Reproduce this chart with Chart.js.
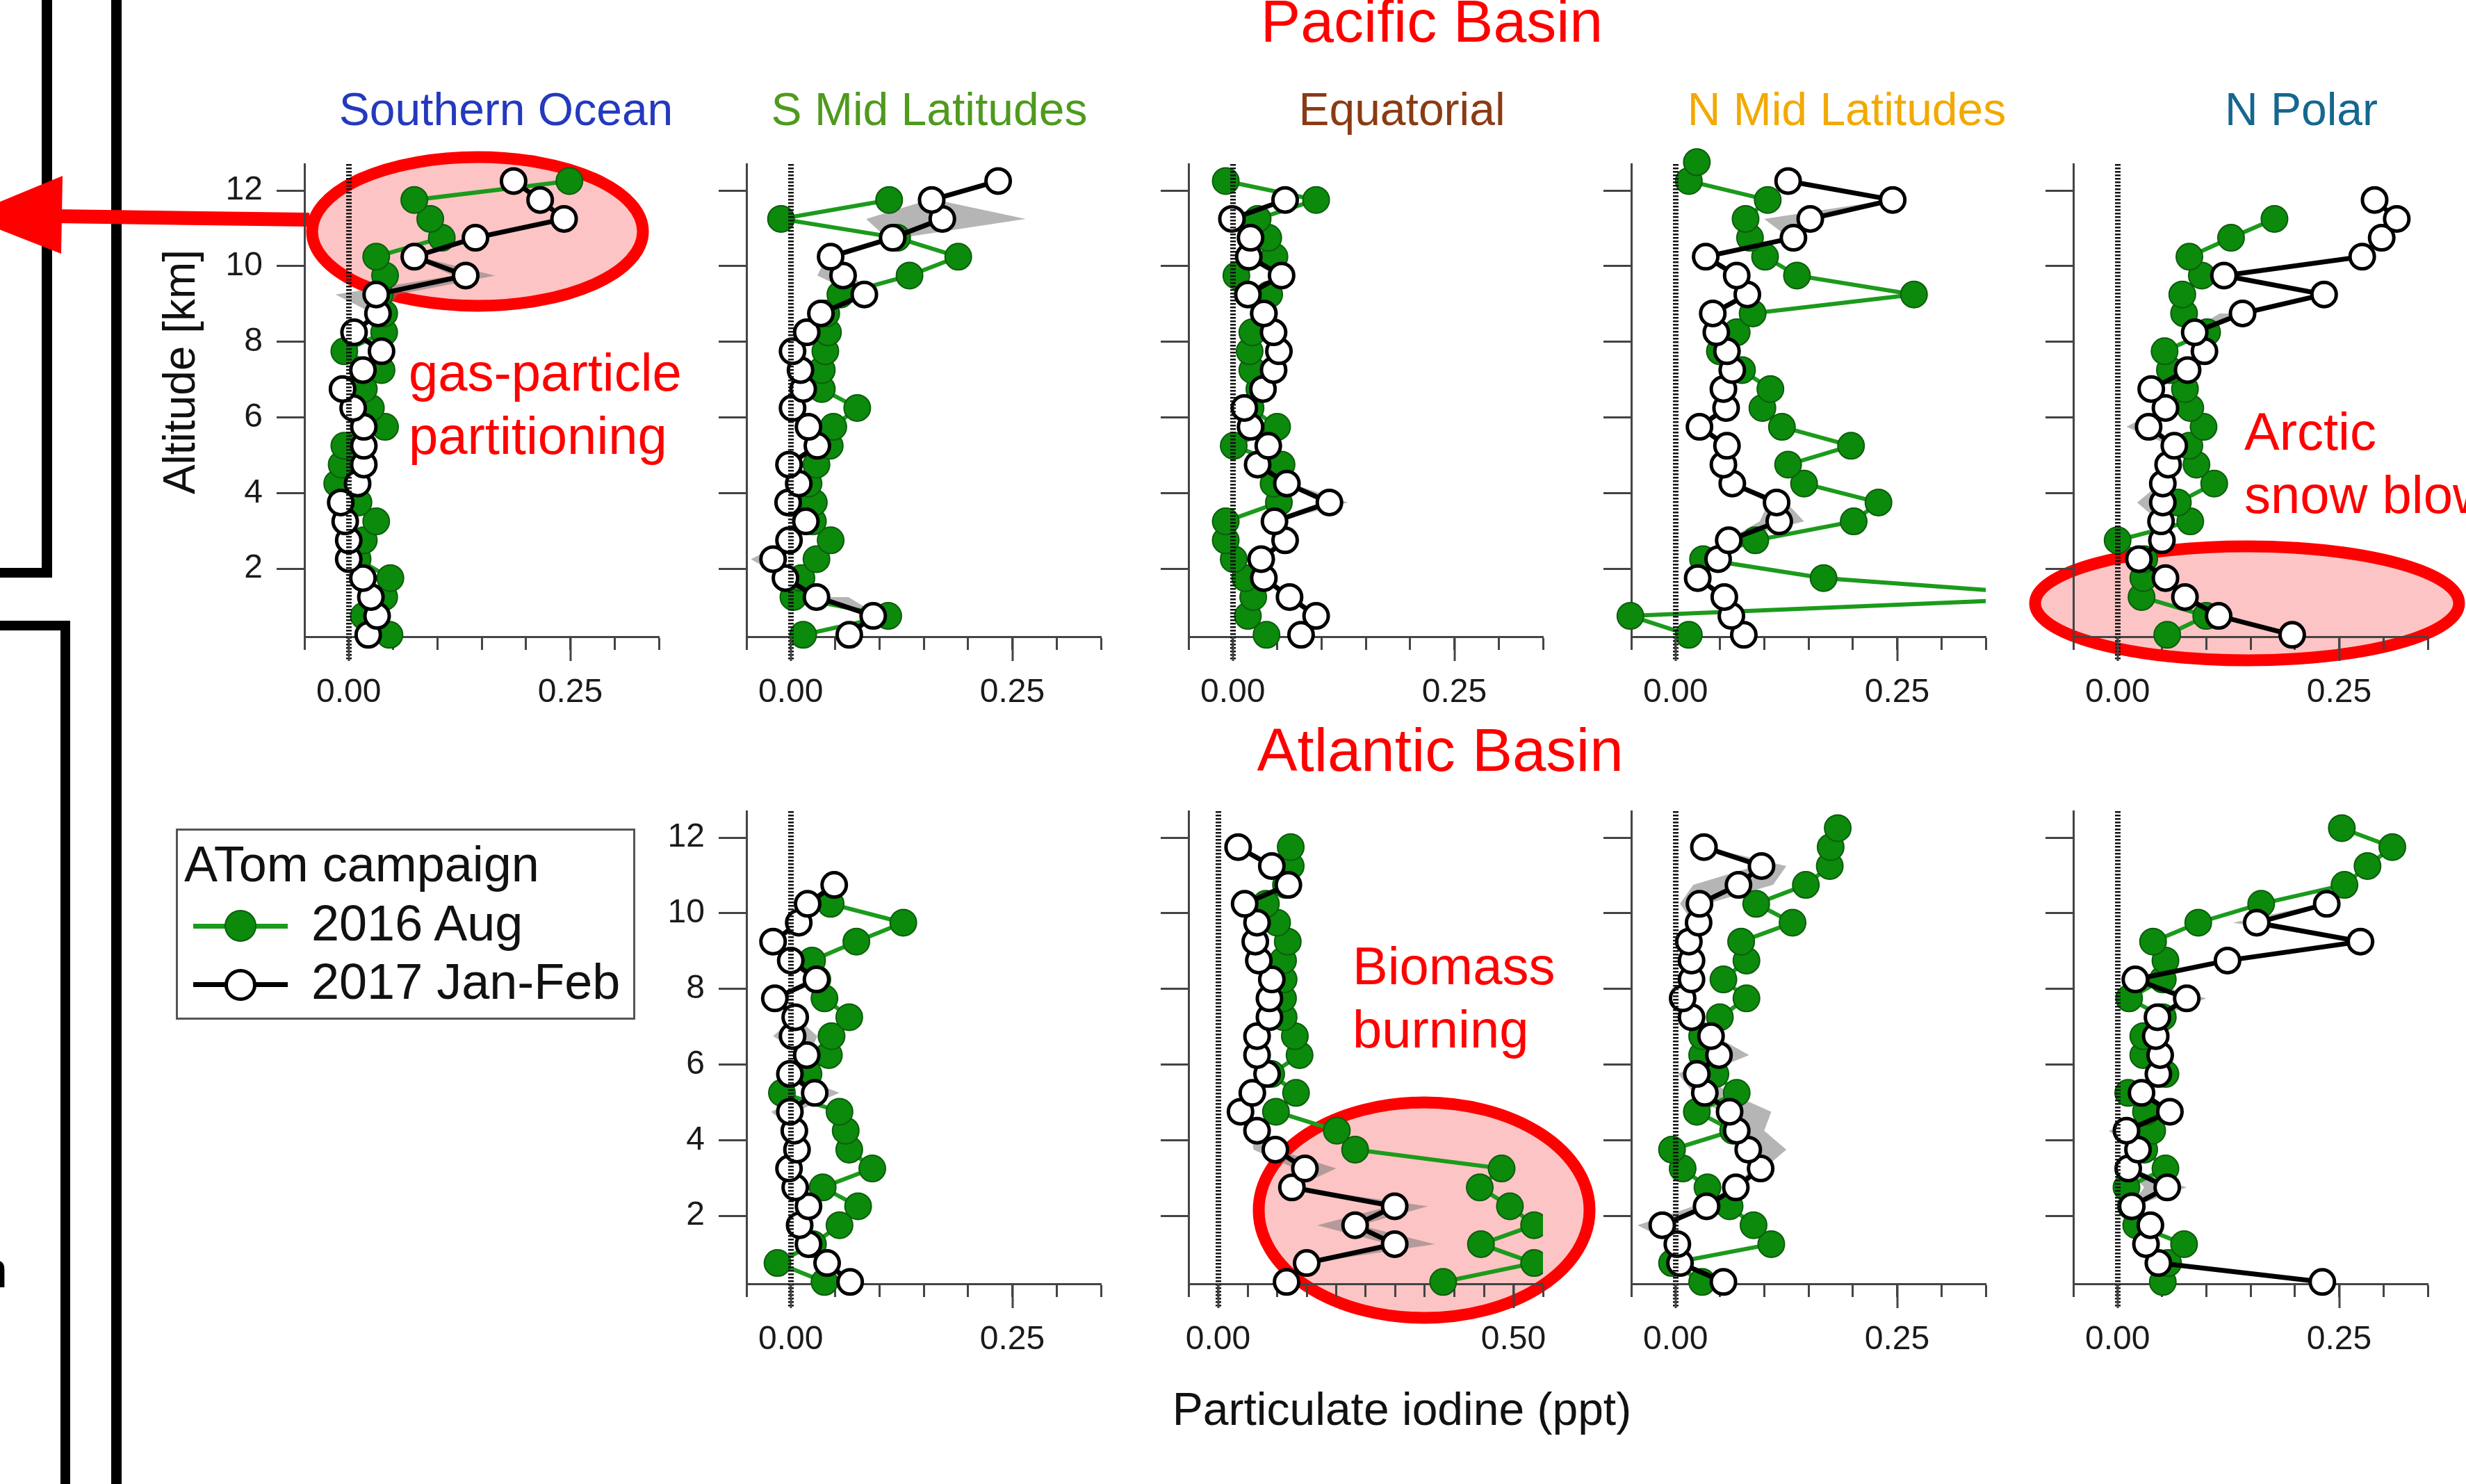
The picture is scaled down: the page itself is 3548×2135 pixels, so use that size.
<!DOCTYPE html>
<html>
<head>
<meta charset="UTF-8">
<title>ATom particulate iodine profiles</title>
<script src="https://cdn.jsdelivr.net/npm/chart.js@4.4.1/dist/chart.umd.min.js"></script>
<style>
  html, body { margin: 0; padding: 0; background: #fff; }
  body { width: 3548px; height: 2135px; position: relative; overflow: hidden;
         font-family: "Liberation Sans", Arial, sans-serif; }
  .txt { position: absolute; white-space: nowrap; line-height: 1; }
  .ctr { transform: translateX(-50%); }
  .note { position: absolute; white-space: nowrap; color: #f00; font-size: 76px; line-height: 91px; }
  canvas { position: absolute; }
  #shapes { position: absolute; left: 0; top: 0; }
  #legendBox { position: absolute; left: 253px; top: 1192px; width: 655px; height: 269px;
               border: 3px solid #555; background: #fff; }
  .sym { position: absolute; }
</style>
</head>
<body>

<!-- cropped neighbour panels, highlight ellipses and arrow -->
<svg id="shapes" width="3548" height="2135">
  <rect x="60" y="0" width="15" height="831" fill="#000"/>
  <rect x="0" y="817" width="75" height="14" fill="#000"/>
  <rect x="0" y="893" width="101" height="14" fill="#000"/>
  <rect x="87" y="893" width="14" height="1242" fill="#000"/>
  <rect x="160" y="0" width="15" height="2135" fill="#000"/>
  <ellipse cx="687" cy="333" rx="238" ry="107" fill="#fcc4c4" stroke="#ff0000" stroke-width="17"/>
  <ellipse cx="3233" cy="868" rx="305" ry="82" fill="#fcc4c4" stroke="#ff0000" stroke-width="17"/>
  <ellipse cx="2049" cy="1741" rx="238" ry="155" fill="#fcc4c4" stroke="#ff0000" stroke-width="17"/>
  <line x1="80" y1="311" x2="445" y2="316" stroke="#ff0000" stroke-width="20"/>
  <polygon points="-50,311 90,253 88,365" fill="#ff0000"/>
</svg>

<div class="txt" style="left:-29px; top:1791px; font-size:72px; color:#000;">n</div>

<div class="txt ctr" style="left:2060px; top:-13px; font-size:86px; color:#f00;">Pacific Basin</div>
<div class="txt ctr" style="left:2072px; top:1035px; font-size:87px; color:#f00;">Atlantic Basin</div>

<div class="txt ctr" style="left:728px; top:124px; font-size:66px; color:#2339be;">Southern Ocean</div>
<div class="txt ctr" style="left:1337px; top:124px; font-size:66px; color:#4f9a1e;">S Mid Latitudes</div>
<div class="txt ctr" style="left:2017px; top:124px; font-size:66px; color:#8a3b14;">Equatorial</div>
<div class="txt ctr" style="left:2657px; top:124px; font-size:66px; color:#f2a900;">N Mid Latitudes</div>
<div class="txt ctr" style="left:3311px; top:124px; font-size:66px; color:#15678f;">N Polar</div>

<div class="txt" style="left:258px; top:535px; font-size:64px; color:#111;
     transform: translate(-50%, -50%) rotate(-90deg);">Altitude [km]</div>
<div class="txt ctr" style="left:2017px; top:1994px; font-size:66px; color:#111;">Particulate iodine (ppt)</div>

<div class="note" style="left:588px; top:490px;">gas-particle<br>partitioning</div>
<div class="note" style="left:1946px; top:1344px;">Biomass<br>burning</div>
<div class="note" style="left:3229px; top:575px;">Arctic<br>snow blowing</div>

<div id="legendBox"></div>
<div class="txt" style="left:265px; top:1207px; font-size:72px; color:#111;">ATom campaign</div>
<div class="sym" style="left:278px; top:1329px; width:136px; height:7px; background:#1c9a1c;"></div>
<div class="sym" style="left:323px; top:1309px; width:46px; height:46px; box-sizing:border-box;
     border-radius:50%; background:#0b8a0b; border:2px solid #0d5c0d;"></div>
<div class="txt" style="left:448px; top:1292px; font-size:72px; color:#111;">2016 Aug</div>
<div class="sym" style="left:278px; top:1413px; width:136px; height:7px; background:#000;"></div>
<div class="sym" style="left:323px; top:1394px; width:46px; height:46px; box-sizing:border-box;
     border-radius:50%; background:#fff; border:5px solid #000;"></div>
<div class="txt" style="left:448px; top:1376px; font-size:72px; color:#111;">2017 Jan-Feb</div>

<script>
// altitude bins (km), shared by every profile
const ALTITUDE_KM = [0.25, 0.75, 1.25, 1.75, 2.25, 2.75, 3.25, 3.75, 4.25, 4.75, 5.25, 5.75, 6.25,
                     6.75, 7.25, 7.75, 8.25, 8.75, 9.25, 9.75, 10.25, 10.75, 11.25, 11.75, 12.25, 12.75];
const Y_TICKS = [2, 4, 6, 8, 10, 12];
const X_TICKS_SHORT = [-0.05, 0, 0.05, 0.1, 0.15, 0.2, 0.25, 0.3, 0.35];
const X_TICKS_LONG = [-0.05, 0, 0.05, 0.1, 0.15, 0.2, 0.25, 0.3, 0.35, 0.4, 0.45, 0.5, 0.55];
const X_LABELS_SHORT = [0, 0.25];
const X_LABELS_LONG = [0, 0.5];

// particulate iodine (ppt), bottom bin first
const pacSO2017 = [0.022, 0.032, 0.025, 0.016, 0.000, 0.000, -0.004, -0.009, 0.010, 0.017, 0.017, 0.017, 0.005, -0.007, 0.016, 0.037, 0.006, 0.033, 0.031, 0.132, 0.074, 0.143, 0.243, 0.216, 0.186, null];
const pacSO2016 = [0.046, 0.017, 0.040, 0.047, 0.010, 0.017, 0.031, 0.011, -0.013, -0.008, -0.005, 0.041, 0.025, 0.017, 0.037, -0.005, 0.040, 0.040, 0.035, 0.041, 0.031, 0.105, 0.092, 0.074, 0.249, null];

const pacSML2017 = [0.066, 0.093, 0.029, -0.006, -0.020, -0.002, 0.017, -0.003, 0.009, -0.002, 0.030, 0.020, 0.002, 0.014, 0.011, 0.002, 0.018, 0.034, 0.083, 0.059, 0.045, 0.115, 0.171, 0.159, 0.234, null];
const pacSML2016 = [0.014, 0.110, 0.003, 0.012, 0.029, 0.045, 0.025, 0.026, 0.020, 0.029, 0.044, 0.048, 0.075, 0.035, 0.035, 0.039, 0.042, 0.040, 0.056, 0.134, 0.189, 0.120, -0.011, 0.111, null, null];

const pacEQ2017 = [0.077, 0.094, 0.064, 0.035, 0.032, 0.059, 0.047, 0.109, 0.061, 0.028, 0.040, 0.020, 0.013, 0.034, 0.046, 0.052, 0.046, 0.035, 0.017, 0.055, 0.018, 0.020, -0.001, 0.059, null, null];
const pacEQ2016 = [0.038, 0.017, 0.023, 0.014, 0.001, -0.008, -0.008, 0.052, 0.046, 0.055, 0.001, 0.050, 0.020, 0.030, 0.022, 0.019, 0.022, 0.035, 0.041, 0.004, 0.047, 0.040, 0.028, 0.094, -0.008, null];

const pacNML2017 = [0.077, 0.063, 0.055, 0.025, 0.048, 0.060, 0.117, 0.114, 0.064, 0.054, 0.058, 0.027, 0.057, 0.054, 0.064, 0.058, 0.046, 0.042, 0.081, 0.069, 0.034, 0.133, 0.152, 0.245, 0.127, null];
const pacNML2016 = [0.015, -0.051, 0.46, 0.167, 0.031, 0.090, 0.201, 0.229, 0.145, 0.127, 0.198, 0.120, 0.098, 0.107, 0.075, 0.050, 0.069, 0.087, 0.269, 0.137, 0.101, 0.084, 0.079, 0.104, 0.015, 0.024];

const pacNP2017 = [0.197, 0.114, 0.076, 0.054, 0.024, 0.050, 0.049, 0.051, 0.051, 0.057, 0.064, 0.035, 0.054, 0.038, 0.079, 0.098, 0.087, 0.141, 0.233, 0.120, 0.276, 0.298, 0.315, 0.290, null, null];
const pacNP2016 = [0.056, 0.100, 0.027, 0.029, 0.030, 0.000, 0.082, 0.068, 0.109, 0.089, 0.081, 0.097, 0.082, 0.076, 0.059, 0.053, 0.101, 0.075, 0.073, 0.095, 0.081, 0.128, 0.177, null, null, null];

const atlSML2017 = [0.067, 0.041, 0.020, 0.010, 0.020, 0.005, -0.002, 0.007, 0.004, -0.001, 0.027, -0.001, 0.018, 0.002, 0.005, -0.018, 0.029, 0.000, -0.020, 0.009, 0.019, 0.049, null, null, null, null];
const atlSML2016 = [0.038, -0.015, 0.025, 0.055, 0.076, 0.036, 0.092, 0.066, 0.062, 0.055, -0.010, 0.020, 0.043, 0.046, 0.066, 0.038, 0.030, 0.024, 0.074, 0.127, 0.045, null, null, null, null, null];

const atlEQ2017 = [0.116, 0.150, 0.299, 0.232, 0.299, 0.125, 0.147, 0.097, 0.066, 0.038, 0.058, 0.083, 0.066, 0.066, 0.087, 0.087, 0.091, 0.069, 0.063, 0.066, 0.045, 0.119, 0.091, 0.034, null, null];
const atlEQ2016 = [0.381, 0.535, 0.445, 0.535, 0.494, 0.443, 0.480, 0.232, 0.201, 0.098, 0.132, 0.090, 0.138, 0.130, 0.111, 0.110, 0.111, 0.110, 0.118, 0.100, 0.081, 0.115, 0.123, 0.123, null, null];

const atlNML2017 = [0.054, 0.005, 0.002, -0.015, 0.035, 0.068, 0.096, 0.082, 0.069, 0.061, 0.033, 0.024, 0.049, 0.040, 0.018, 0.008, 0.018, 0.018, 0.015, 0.026, 0.027, 0.071, 0.097, 0.032, null, null];
const atlNML2016 = [0.030, -0.004, 0.108, 0.088, 0.061, 0.036, 0.008, -0.004, 0.065, 0.024, 0.069, 0.045, 0.030, 0.030, 0.050, 0.080, 0.054, 0.080, 0.074, 0.132, 0.091, 0.147, 0.174, 0.175, 0.183, null];

const atlNP2017 = [0.231, 0.046, 0.032, 0.037, 0.016, 0.056, 0.012, 0.023, 0.010, 0.059, 0.027, 0.046, 0.048, 0.043, 0.045, 0.078, 0.020, 0.124, 0.274, 0.157, 0.236, null, null, null, null, null];
const atlNP2016 = [0.051, 0.057, 0.075, 0.021, 0.015, 0.010, 0.054, 0.030, 0.039, 0.032, 0.012, 0.054, 0.029, 0.029, 0.051, 0.013, 0.051, 0.054, 0.040, 0.091, 0.162, 0.256, 0.282, 0.310, 0.253, null];

// 2017 spread: [altitude, low, high] runs
const pacSOBand = [[[10.25, 0.07, 0.078], [9.75, 0.118, 0.165], [9.25, -0.015, 0.055], [8.75, 0.028, 0.04]]];
const pacSMLBand = [
  [[11.75, 0.155, 0.165], [11.25, 0.085, 0.265], [10.75, 0.108, 0.125]],
  [[10.25, 0.04, 0.05], [9.75, 0.03, 0.07], [9.25, 0.075, 0.09]],
  [[2.75, -0.004, 0.0], [2.25, -0.045, -0.01], [1.75, -0.008, -0.004]],
  [[1.25, 0.025, 0.065], [0.75, 0.085, 0.1]]];
const pacEQBand = [[[4.25, 0.058, 0.066], [3.75, 0.1, 0.13], [3.25, 0.045, 0.05]]];
const pacNMLBand = [
  [[11.75, 0.24, 0.25], [11.25, 0.1, 0.16], [10.75, 0.128, 0.138]],
  [[4.25, 0.062, 0.068], [3.75, 0.105, 0.125], [3.25, 0.095, 0.145], [2.75, 0.058, 0.062]]];
const pacNPBand = [
  [[8.75, 0.115, 0.145], [8.25, 0.08, 0.095]],
  [[6.25, 0.05, 0.056], [5.75, 0.01, 0.04], [5.25, 0.06, 0.066]],
  [[4.25, 0.048, 0.052], [3.75, 0.022, 0.052], [3.25, 0.047, 0.05]]];
const atlSMLBand = [
  [[7.25, 0.004, 0.006], [6.75, -0.02, 0.03], [6.25, 0.016, 0.02]],
  [[5.75, -0.002, 0.0], [5.25, 0.02, 0.055], [4.75, -0.022, 0.005], [4.25, 0.003, 0.005]]];
const atlEQBand = [[[4.25, 0.055, 0.07], [3.75, 0.06, 0.1], [3.25, 0.13, 0.2], [2.75, 0.12, 0.13],
  [2.25, 0.29, 0.355], [1.75, 0.168, 0.24], [1.25, 0.29, 0.367], [0.75, 0.145, 0.155]]];
const atlNMLBand = [
  [[11.75, 0.03, 0.034], [11.25, 0.09, 0.125], [10.75, 0.02, 0.11], [10.25, 0.005, 0.035], [9.75, 0.02, 0.03]],
  [[7.25, 0.016, 0.02], [6.75, 0.035, 0.045], [6.25, 0.045, 0.083], [5.75, 0.003, 0.03], [5.25, 0.02, 0.06],
   [4.75, 0.05, 0.108], [4.25, 0.06, 0.1], [3.75, 0.078, 0.125], [3.25, 0.09, 0.1], [2.75, 0.06, 0.07]],
  [[2.25, 0.02, 0.04], [1.75, -0.043, -0.01], [1.25, 0.0, 0.004]]];
const atlNPBand = [
  [[10.25, 0.23, 0.24], [9.75, 0.13, 0.16], [9.25, 0.27, 0.28]],
  [[8.25, 0.018, 0.022], [7.75, 0.075, 0.1], [7.25, 0.043, 0.047]],
  [[4.75, 0.057, 0.06], [4.25, -0.01, 0.012], [3.75, 0.02, 0.025]],
  [[3.25, 0.01, 0.014], [2.75, 0.03, 0.078], [2.25, 0.014, 0.018]]];

// panel frame sizes (px)
const Y_AXIS_W = 150, X_AXIS_H = 130, PAD_TOP = 30, PAD_RIGHT = 40;
const PLOT_W = 510, PLOT_H = 680;

const panels = [
  { left: 438,  top: 236,  v17: pacSO2017,  v16: pacSO2016,  band: pacSOBand,  xTicks: X_TICKS_SHORT, xLabels: X_LABELS_SHORT, yLabels: true },
  { left: 1074, top: 236,  v17: pacSML2017, v16: pacSML2016, band: pacSMLBand, xTicks: X_TICKS_SHORT, xLabels: X_LABELS_SHORT, yLabels: false },
  { left: 1710, top: 236,  v17: pacEQ2017,  v16: pacEQ2016,  band: pacEQBand,  xTicks: X_TICKS_SHORT, xLabels: X_LABELS_SHORT, yLabels: false },
  { left: 2347, top: 236,  v17: pacNML2017, v16: pacNML2016, band: pacNMLBand, xTicks: X_TICKS_SHORT, xLabels: X_LABELS_SHORT, yLabels: false },
  { left: 2983, top: 236,  v17: pacNP2017,  v16: pacNP2016,  band: pacNPBand,  xTicks: X_TICKS_SHORT, xLabels: X_LABELS_SHORT, yLabels: false },
  { left: 1074, top: 1167, v17: atlSML2017, v16: atlSML2016, band: atlSMLBand, xTicks: X_TICKS_SHORT, xLabels: X_LABELS_SHORT, yLabels: true },
  { left: 1710, top: 1167, v17: atlEQ2017,  v16: atlEQ2016,  band: atlEQBand,  xTicks: X_TICKS_LONG,  xLabels: X_LABELS_LONG,  yLabels: false },
  { left: 2347, top: 1167, v17: atlNML2017, v16: atlNML2016, band: atlNMLBand, xTicks: X_TICKS_SHORT, xLabels: X_LABELS_SHORT, yLabels: false },
  { left: 2983, top: 1167, v17: atlNP2017,  v16: atlNP2016,  band: atlNPBand,  xTicks: X_TICKS_SHORT, xLabels: X_LABELS_SHORT, yLabels: false }
];

Chart.defaults.font.family = '"Liberation Sans", Arial, sans-serif';
Chart.defaults.font.size = 48;
Chart.defaults.color = '#1a1a1a';

function profile(values) {
  return ALTITUDE_KM.map((alt, i) => ({ x: values[i], y: alt })).filter(p => p.x !== null);
}

// grey spread under the data, dotted zero line over it, long major ticks
function decor(p) {
  return {
    id: 'profileDecor',
    beforeDatasetsDraw(chart) {
      const { ctx, scales: { x, y } } = chart;
      ctx.save();
      ctx.fillStyle = 'rgba(120,120,120,0.55)';
      p.band.forEach(run => {
        ctx.beginPath();
        run.forEach((r, i) => {
          const px = x.getPixelForValue(r[1]), py = y.getPixelForValue(r[0]);
          if (i) ctx.lineTo(px, py); else ctx.moveTo(px, py);
        });
        for (let i = run.length - 1; i >= 0; i--) {
          ctx.lineTo(x.getPixelForValue(run[i][2]), y.getPixelForValue(run[i][0]));
        }
        ctx.closePath();
        ctx.fill();
      });
      ctx.restore();
    },
    afterDatasetsDraw(chart) {
      const { ctx, chartArea, scales: { x } } = chart;
      const px = Math.round(x.getPixelForValue(0));
      ctx.save();
      ctx.strokeStyle = '#111';
      ctx.lineWidth = 8;
      ctx.setLineDash([2.5, 2.5]);
      ctx.beginPath();
      ctx.moveTo(px, chartArea.top);
      ctx.lineTo(px, chartArea.bottom + 35);
      ctx.stroke();
      ctx.restore();
    },
    afterDraw(chart) {
      const { ctx, chartArea, scales: { x } } = chart;
      ctx.save();
      ctx.strokeStyle = '#444';
      ctx.lineWidth = 3;
      p.xLabels.forEach(v => {
        const px = Math.round(x.getPixelForValue(v));
        ctx.beginPath();
        ctx.moveTo(px, chartArea.bottom);
        ctx.lineTo(px, chartArea.bottom + 35);
        ctx.stroke();
      });
      ctx.restore();
    }
  };
}

function makePanel(p) {
  const canvas = document.createElement('canvas');
  canvas.width = Y_AXIS_W + PLOT_W + PAD_RIGHT;
  canvas.height = PAD_TOP + PLOT_H + X_AXIS_H;
  canvas.style.left = (p.left - Y_AXIS_W) + 'px';
  canvas.style.top = (p.top - PAD_TOP) + 'px';
  document.body.appendChild(canvas);

  const clip = { left: 30, top: 30, right: 0, bottom: 30 };
  const xMax = p.xTicks[p.xTicks.length - 1];

  new Chart(canvas, {
    type: 'scatter',
    data: {
      datasets: [
        {
          label: '2017 Jan-Feb', order: 1, data: profile(p.v17), showLine: true, clip,
          borderColor: '#000', borderWidth: 7,
          pointRadius: 17.5, pointBorderWidth: 5, pointBackgroundColor: '#fff', pointBorderColor: '#000'
        },
        {
          label: '2016 Aug', order: 2, data: profile(p.v16), showLine: true, clip,
          borderColor: '#1c9a1c', borderWidth: 6,
          pointRadius: 19, pointBorderWidth: 2, pointBackgroundColor: '#0b8a0b', pointBorderColor: '#0d5c0d'
        }
      ]
    },
    options: {
      responsive: false,
      animation: false,
      events: [],
      layout: { autoPadding: false, padding: { top: PAD_TOP, right: PAD_RIGHT, left: 0, bottom: 0 } },
      plugins: { legend: { display: false }, tooltip: { enabled: false } },
      scales: {
        x: {
          type: 'linear', min: -0.05, max: xMax,
          afterBuildTicks: s => { s.ticks = p.xTicks.map(v => ({ value: v })); },
          afterFit: s => { s.height = X_AXIS_H; s.paddingLeft = 0; s.paddingRight = 0; },
          ticks: {
            autoSkip: false, maxRotation: 0, padding: 33,
            callback: v => p.xLabels.some(m => Math.abs(m - v) < 1e-6) ? v.toFixed(2) : ''
          },
          grid: { drawOnChartArea: false, drawTicks: true, tickLength: 19, tickWidth: 3, tickColor: '#444' },
          border: { display: true, width: 3, color: '#444' }
        },
        y: {
          type: 'linear', min: 0.2, max: 12.7,
          afterBuildTicks: s => { s.ticks = Y_TICKS.map(v => ({ value: v })); },
          afterFit: s => { s.width = Y_AXIS_W; s.paddingTop = 0; s.paddingBottom = 0; },
          ticks: { display: p.yLabels, padding: 20, callback: v => String(v) },
          grid: { drawOnChartArea: false, drawTicks: true, tickLength: 40, tickWidth: 3, tickColor: '#444' },
          border: { display: true, width: 3, color: '#444' }
        }
      }
    },
    plugins: [decor(p)]
  });
}

panels.forEach(makePanel);
</script>
</body>
</html>
